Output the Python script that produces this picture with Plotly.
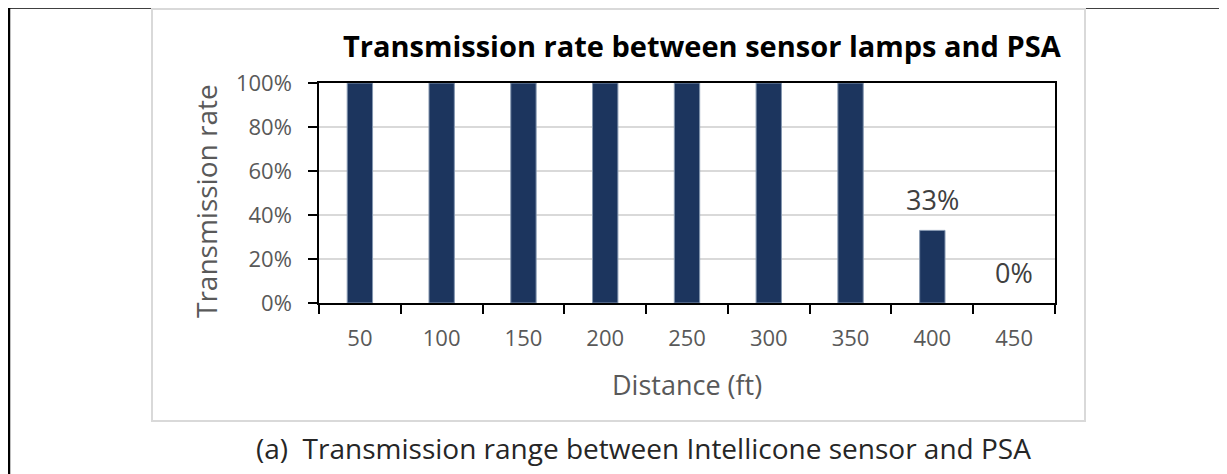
import plotly.graph_objects as go

# ---- data ----
distances = ["50", "100", "150", "200", "250", "300", "350", "400", "450"]
rates = [1.0, 1.0, 1.0, 1.0, 1.0, 1.0, 1.0, 0.33, 0.0]
labelled_idx = [7, 8]  # points that carry data labels
y_ticks = [0, 0.2, 0.4, 0.6, 0.8, 1.0]

title_text = "Transmission rate between sensor lamps and PSA"
x_title = "Distance (ft)"
y_title = "Transmission rate"
caption = "(a)&nbsp;&nbsp;Transmission range between Intellicone sensor and PSA"

# ---- layout geometry (page pixels; page body has an 8px margin) ----
OFF = 8
W, H = 1227, 474
L, R, T, B = 319 - OFF, 1055 - OFF, 83 - OFF, 303 - OFF
PW, PH = R - L, B - T


def px(xp):
    return (xp - OFF - L) / PW


def py(yp):
    return (B - (yp - OFF)) / PH


FONT = "Open Sans"
BAR_COLOR = "#1c355e"

fig = go.Figure()
fig.add_trace(go.Bar(
    x=distances, y=rates, width=0.31,
    marker=dict(color=BAR_COLOR,
                line=dict(color="#8497b0", width=[1 if v > 0 else 0 for v in rates])),
    hoverinfo="skip", showlegend=False,
))

annotations = []
for i in labelled_idx:
    annotations.append(dict(
        x=i, y=rates[i], xref="x", yref="y",
        text=f"{round(rates[i] * 100)}%", showarrow=False,
        yanchor="bottom", yshift=10,
        font=dict(family=FONT, size=27, color="#404040"),
    ))

annotations += [
    dict(x=px(702), y=py(46), xref="paper", yref="paper", text=f"<b>{title_text}</b>",
         showarrow=False, xanchor="center", yanchor="middle",
         font=dict(family=FONT, size=29, color="#000000")),
    dict(x=px(206), y=py(201), xref="paper", yref="paper", text=y_title, textangle=-90,
         showarrow=False, xanchor="center", yanchor="middle",
         font=dict(family=FONT, size=28, color="#595959")),
    dict(x=px(687), y=py(384), xref="paper", yref="paper", text=x_title,
         showarrow=False, xanchor="center", yanchor="middle",
         font=dict(family=FONT, size=27, color="#595959")),
    dict(x=px(643), y=py(448), xref="paper", yref="paper", text=caption,
         showarrow=False, xanchor="center", yanchor="middle",
         font=dict(family=FONT, size=28, color="#262626")),
]

shapes = [
    # outer black frame (left and top segments)
    dict(type="line", xref="paper", yref="paper", x0=px(9), x1=px(9), y0=py(7), y1=py(490),
         line=dict(color="black", width=2.5)),
    dict(type="line", xref="paper", yref="paper", x0=px(8), x1=px(152), y0=py(7.5), y1=py(7.5),
         line=dict(color="black", width=2.5)),
    dict(type="line", xref="paper", yref="paper", x0=px(1085), x1=px(1240), y0=py(7.5), y1=py(7.5),
         line=dict(color="black", width=2.5)),
    # chart area border
    dict(type="rect", xref="paper", yref="paper", x0=px(152), x1=px(1085), y0=py(9), y1=py(421),
         line=dict(color="#d9d9d9", width=2)),
]

fig.update_layout(
    width=W, height=H,
    margin=dict(l=L, r=W - R, t=T, b=H - B, pad=0),
    paper_bgcolor="white", plot_bgcolor="white",
    font=dict(family=FONT, color="#595959"),
    annotations=annotations, shapes=shapes,
    showlegend=False,
)
fig.update_xaxes(
    type="category", range=[-0.5, len(distances) - 0.5],
    showline=True, linecolor="black", linewidth=1.5, mirror=True,
    ticks="outside", tickson="boundaries", ticklen=9, tickcolor="black", tickwidth=1.5,
    tickfont=dict(family=FONT, size=22, color="#595959"), ticklabelstandoff=15,
    tickangle=0, showgrid=False, zeroline=False,
)
fig.update_yaxes(
    range=[0, 1], tickvals=y_ticks, tickformat=".0%",
    showline=True, linecolor="black", linewidth=1.5, mirror=True,
    ticks="outside", ticklen=9, tickcolor="black", tickwidth=1.5,
    tickfont=dict(family=FONT, size=22, color="#595959"), ticklabelstandoff=12,
    showgrid=True, gridcolor="#d9d9d9", gridwidth=1.5, zeroline=False,
)

fig.write_html("out.html")
